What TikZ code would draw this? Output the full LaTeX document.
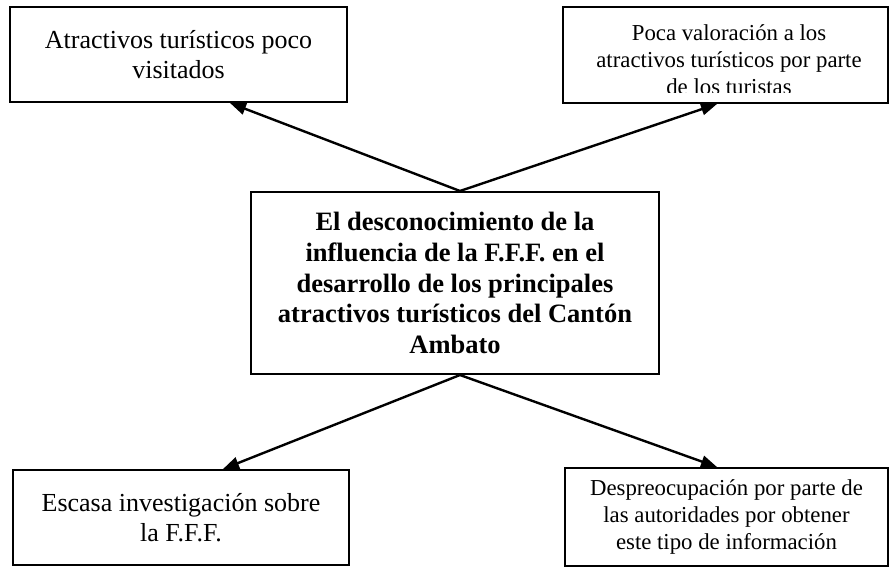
\documentclass[tikz,border=0pt]{standalone}
\usepackage{fontspec}
\setmainfont{Liberation Serif}
\usetikzlibrary{arrows.meta}

\begin{document}
\begin{tikzpicture}[
    x=1pt, y=-1pt,
    caja/.style={rectangle, draw, line width=2pt, align=center, inner sep=0pt, font=\fontsize{26}{29.5}\selectfont},
    cajachica/.style={caja, font=\fontsize{22.8}{27}\selectfont},
    problema/.style={caja, font=\fontsize{26.5}{30.8}\selectfont\bfseries},
    flecha/.style={-{Triangle[length=16pt,width=12pt]}, line width=2.4pt}
]
    \useasboundingbox (0,0) rectangle (890,567);

    % problema central
    \node[problema, minimum width=408pt, minimum height=182pt] (problema) at (455,283) {El desconocimiento de la\\influencia de la F.F.F. en el\\desarrollo de los principales\\atractivos turísticos del Cantón\\Ambato};

    % efectos
    \node[caja, minimum width=337pt, minimum height=95pt] (visitados) at (178.5,54.5) {Atractivos turísticos poco\\visitados};
    \node[caja, minimum width=325pt, minimum height=96pt] (valoracion) at (725.5,55) {};
    \begin{scope}
        \clip (valoracion.north west) rectangle (888,92.5);
        \node[cajachica, draw=none, anchor=north] (valoraciontxt) at (729,24) {Poca valoración a los\\atractivos turísticos por parte\\de los turistas};
    \end{scope}

    % causas
    \node[caja, minimum width=336pt, minimum height=95pt] (investigacion) at (181,517.5) {Escasa investigación sobre\\la F.F.F.};
    \node[cajachica, minimum width=323pt, minimum height=98pt] (despreocupacion) at (726.5,517) {Despreocupación por parte de\\las autoridades por obtener\\este tipo de información};

    \draw[flecha] ([xshift=5pt]problema.north) -- ([xshift=51.5pt]visitados.south);
    \draw[flecha] ([xshift=5pt]problema.north) -- ([xshift=-8.5pt]valoracion.south);
    \draw[flecha] ([xshift=5pt]problema.south) -- ([xshift=42pt]investigacion.north);
    \draw[flecha] ([xshift=5pt]problema.south) -- ([xshift=-9.5pt]despreocupacion.north);
\end{tikzpicture}
\end{document}
